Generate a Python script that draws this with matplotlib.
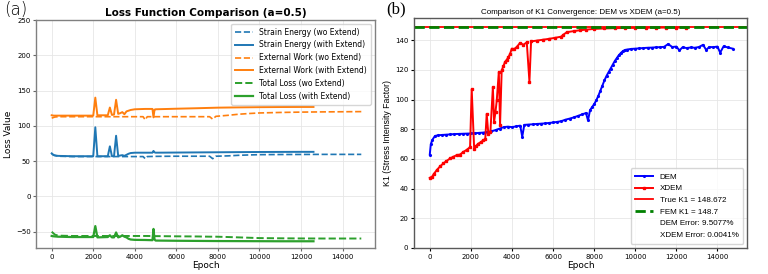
import matplotlib
matplotlib.use("Agg")
import matplotlib.pyplot as plt
from matplotlib.lines import Line2D

# ---- panel (a): loss terms ----
wo_epoch = [0, 150, 300, 1000, 2000, 3000, 4000, 4400, 4500, 4600, 5000, 6000, 7000,
            7600, 7750, 7900, 8500, 9000, 9500, 10000, 11000, 12000, 13000, 14000, 14900]
se_wo = [60, 58, 57, 56.5, 56.5, 56.5, 56.5, 56.5, 53.5, 56.5, 56.8, 57, 57,
         57, 53.5, 57, 57.5, 58.3, 58.8, 59.2, 59.4, 59.5, 59.6, 59.6, 59.6]
ew_wo = [111, 112.5, 113, 113, 113, 113, 113, 113, 108.5, 113, 113, 113, 113,
         113, 109.5, 113.5, 115, 116.5, 117.5, 118.3, 119, 119.5, 119.8, 120, 120.2]
tl_wo = [-50, -54, -55.5, -56, -56, -56, -56, -56, -56, -56, -56.2, -56.5, -56.7,
         -57, -57, -57, -57.5, -58, -58.5, -59, -59.3, -59.5, -59.6, -59.6, -59.6]

w_epoch = [0, 100, 300, 1000, 2000, 2100, 2200, 2700, 2800, 2900, 3000, 3100, 3200,
           3300, 3400, 3500, 3600, 3700, 3800, 4000, 4500, 4850, 4900, 4950, 5000,
           6000, 7000, 8000, 9000, 10000, 11000, 12000, 12600]
se_w = [61, 58.5, 57.5, 57, 57, 98, 57, 57, 71, 57, 57, 86, 57.5,
        58, 58.5, 57.5, 59, 60.5, 61.5, 62, 62, 62, 64.5, 62.5, 62,
        62.2, 62.4, 62.6, 62.8, 63, 63.1, 63.2, 63.2]
ew_w = [115, 114.5, 114.5, 114.5, 114.5, 140, 115, 115, 126, 115.5, 116, 137, 117,
        118, 119.5, 116.5, 120.5, 121.5, 122.5, 123.5, 124, 124, 112, 123, 123.5,
        124.3, 125, 125.8, 126.2, 126.5, 126.7, 126.8, 126.8]
tl_w = [-56, -56.5, -57, -57.5, -57.5, -42, -58, -57.5, -55, -58, -58, -51, -58,
        -57, -55, -57, -58, -60, -61, -61.5, -61.7, -62, -46, -61, -62.5,
        -62.8, -63, -63.2, -63.3, -63.4, -63.5, -63.5, -63.5]

# ---- panel (b): K1 convergence ----
dem_epoch = [0, 50, 130, 250, 400, 600, 800, 1000, 1200, 1400, 1600, 1800, 2000, 2200,
             2400, 2600, 2800, 3000, 3200, 3400, 3600, 3800, 4000, 4200, 4400, 4500,
             4600, 4800, 5000, 5200, 5400, 5600, 5800, 6000, 6200, 6400, 6600, 6800,
             7000, 7200, 7400, 7600, 7700, 7800, 7900, 8000, 8100, 8200, 8300, 8400,
             8500, 8600, 8700, 8800, 8900, 9000, 9100, 9200, 9300, 9400, 9500, 9600,
             9800, 10000, 10200, 10400, 10600, 10800, 11000, 11200, 11400, 11600,
             11800, 12000, 12150, 12300, 12500, 12700, 12900, 13100, 13300, 13450,
             13600, 13800, 14000, 14130, 14300, 14500, 14740]
dem_k1 = [63, 70, 73, 75.5, 76, 76.2, 76.4, 76.6, 76.8, 76.9, 77, 77.1, 77.2, 77.4,
          77.6, 77.8, 78.2, 78.6, 79.5, 80.5, 81.5, 81.8, 81.5, 82, 82.5, 75,
          83, 83.2, 83.4, 83.6, 83.8, 84, 84.3, 84.6, 85, 85.5, 86.5, 87.2,
          88, 89, 90, 91, 86, 93, 95, 97, 99.5, 102.5, 106, 109.5,
          113, 116, 118.5, 121, 123.5, 126, 128, 130, 131.5, 132.8, 133.5, 133.8,
          134.2, 134.4, 134.6, 134.8, 135, 135.1, 135.3, 135.4, 135.6, 137.5,
          135.5, 135.8, 133.2, 135.3, 134.8, 135.2, 135, 135.5, 137, 133.5,
          135.5, 135.4, 135.8, 131.7, 136, 135.2, 134.4]

xdem_epoch = [0, 110, 200, 340, 500, 660, 800, 990, 1150, 1310, 1470, 1640, 1800, 1960,
              2040, 2160, 2260, 2370, 2500, 2610, 2700, 2770, 2850, 2950, 3070, 3130,
              3200, 3260, 3360, 3420, 3500, 3580, 3660, 3750, 3830, 3910, 3990, 4100,
              4230, 4390, 4560, 4720, 4850, 4930, 5200, 5500, 5800, 6100, 6400, 6500,
              6670, 7000, 7300, 7600, 8000, 8500, 9000, 9500, 10000, 10500, 11000,
              11500, 12000, 12450]
xdem_k1 = [47.3, 48, 50, 52.5, 55, 57, 58.5, 60.4, 61.5, 62.6, 63, 64.8, 66.2, 68,
           107, 67, 69, 70.4, 71.5, 72.7, 73.3, 90.4, 77, 78, 108.5, 85,
           92, 99.6, 118.7, 82.8, 119.8, 122.5, 125.4, 127, 128.7, 131, 134.4, 134,
           135.5, 138.2, 137, 138.7, 112, 139.3, 139.8, 140.4, 141, 141.7, 142.5, 143.8,
           145.5, 146.2, 146.8, 147.2, 147.7, 148, 148.2, 148.3, 148.4, 148.5, 148.5,
           148.6, 148.6, 148.6]

true_k1 = 148.672
fem_k1 = 148.7
dem_err = 9.5077
xdem_err = 0.0041

fig = plt.figure(figsize=(7.68, 2.74), dpi=100)

# (a)
ax1 = fig.add_axes([0.047, 0.095, 0.441, 0.832])
ax1.plot(wo_epoch, se_wo, '--', color='tab:blue', lw=1.2, label='Strain Energy (wo Extend)')
ax1.plot(w_epoch, se_w, '-', color='tab:blue', lw=1.4, label='Strain Energy (with Extend)')
ax1.plot(wo_epoch, ew_wo, '--', color='tab:orange', lw=1.2, label='External Work (wo Extend)')
ax1.plot(w_epoch, ew_w, '-', color='tab:orange', lw=1.4, label='External Work (with Extend)')
ax1.plot(wo_epoch, tl_wo, '--', color='tab:green', lw=1.4, label='Total Loss (wo Extend)')
ax1.plot(w_epoch, tl_w, '-', color='tab:green', lw=1.6, label='Total Loss (with Extend)')
ax1.set_xlim(-750, 15550)
ax1.set_ylim(-73, 250)
ax1.set_xticks(range(0, 15000, 2000))
ax1.set_title('Loss Function Comparison (a=0.5)', fontsize=7.5, fontweight='bold', pad=3)
ax1.set_xlabel('Epoch', fontsize=6.5, labelpad=1)
ax1.set_ylabel('Loss Value', fontsize=6.5, labelpad=2)
ax1.tick_params(labelsize=5, length=2, pad=2, color='0.4')
ax1.grid(True, color='0.9', lw=0.6)
for s in ax1.spines.values():
    s.set_color('0.5')
    s.set_linewidth(1.0)
ax1.legend(loc='upper right', fontsize=5.5, frameon=True, edgecolor='0.8',
           handlelength=2.4, borderpad=0.5, labelspacing=0.5)

# (b)
ax2 = fig.add_axes([0.539, 0.095, 0.434, 0.839])
ax2.plot(dem_epoch, dem_k1, '-', color='blue', lw=1.4, marker='.', ms=2.5, label='DEM')
ax2.plot(xdem_epoch, xdem_k1, '-', color='red', lw=1.4, marker='s', ms=1.5, label='XDEM')
ax2.axhline(true_k1, color='red', lw=1.3, label=f'True K1 = {true_k1}')
ax2.axhline(fem_k1, color='green', ls='--', lw=2, label=f'FEM K1 = {fem_k1}')
ax2.set_xlim(-770, 15450)
ax2.set_ylim(0, 155)
ax2.set_xticks(range(0, 15000, 2000))
ax2.set_yticks(range(0, 141, 20))
ax2.set_title('Comparison of K1 Convergence: DEM vs XDEM (a=0.5)', fontsize=5.8, pad=3,
              family='Liberation Sans')
ax2.set_xlabel('Epoch', fontsize=6.5, labelpad=1)
ax2.set_ylabel('K1 (Stress Intensity Factor)', fontsize=6.3, labelpad=2, family='Liberation Sans')
ax2.tick_params(labelsize=5, length=2, pad=2)
ax2.grid(True, color='0.9', lw=0.6)
for s in ax2.spines.values():
    s.set_color('0.35')
    s.set_linewidth(1.0)
handles, labels = ax2.get_legend_handles_labels()
handles += [Line2D([], [], color='none'), Line2D([], [], color='none')]
labels += [f'DEM Error: {dem_err}%', f'XDEM Error: {xdem_err}%']
ax2.legend(handles, labels, loc='lower right', prop={'family': 'Liberation Sans', 'size': 5.8},
           edgecolor='0.8', handlelength=2.2, borderpad=0.6, labelspacing=0.5)

fig.text(0.006, 0.965, '(a)', fontsize=12, family='DejaVu Sans', va='center', fontweight='light')
fig.text(0.503, 0.965, '(b)', fontsize=12, family='Liberation Serif', va='center')

fig.savefig('out.png', dpi=100)
